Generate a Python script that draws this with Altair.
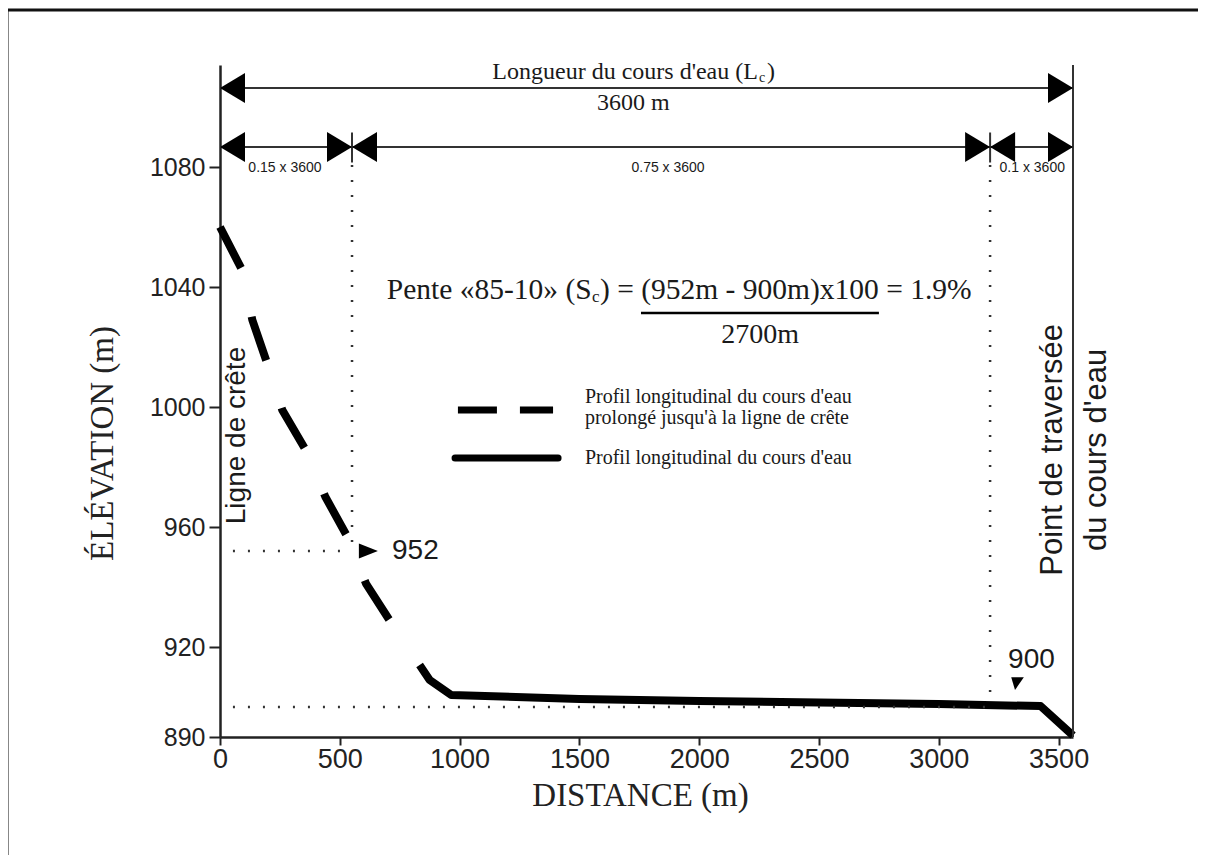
import altair as alt
import pandas as pd

# ---- data ----
dash_x = [0, 90, 135, 195, 260, 355, 440, 530, 610, 715]
dash_y = [1060, 1046, 1029, 1015, 999, 986, 970, 957, 941, 928]

solid_x = [833, 875, 965, 1500, 2000, 2500, 3000, 3425, 3560]
solid_y = [914, 909, 904, 902.7, 902, 901.5, 901, 900.3, 890.5]

x_ticks = [0, 500, 1000, 1500, 2000, 2500, 3000, 3500]
y_ticks = [890, 920, 960, 1000, 1040, 1080]

L_total = 3560
x_85 = 551      # 0.15 x 3600 mark
x_10 = 3214     # 0.1 x 3600 mark
elev_85 = 952
elev_10 = 900

# ---- scales / axes ----
XS = alt.Scale(domain=[0, L_total], nice=False, zero=False)
YS = alt.Scale(domain=[890, 1114], nice=False, zero=False)
XAX = alt.Axis(values=x_ticks, format="d", title="DISTANCE (m)", grid=False, labelPadding=1,
               tickSize=8, labelFontSize=27, titleX=420, titleY=58, titleAlign="center",
               titleBaseline="middle", labelFlush=False)
YAX = alt.Axis(values=y_ticks, format="d", title="ÉLÉVATION (m)", grid=False, labelPadding=4,
               titleX=-118, titleY=378, titleAngle=270, titleAlign="center",
               titleBaseline="middle")


def X(f="x"):
    return alt.X(f"{f}:Q", scale=XS, axis=XAX)


def Y(f="y"):
    return alt.Y(f"{f}:Q", scale=YS, axis=YAX)


layers = []

# curves
dash_df = pd.DataFrame({"x": dash_x, "y": dash_y})
solid_df = pd.DataFrame({"x": solid_x, "y": solid_y})
layers.append(alt.Chart(dash_df).mark_line(color="black", strokeWidth=8, strokeDash=[46, 50],
                                           strokeCap="butt").encode(x=X(), y=Y(), order="x:Q"))
layers.append(alt.Chart(solid_df).mark_line(color="black", strokeWidth=8, strokeJoin="round",
                                            strokeCap="butt").encode(x=X(), y=Y(), order="x:Q"))

# dimension lines
dim_df = pd.DataFrame({
    "x": [0, 0, x_85, x_10],
    "x2": [L_total, x_85, x_10, L_total],
    "y": [1106.3, 1086.7, 1086.7, 1086.7],
})
layers.append(alt.Chart(dim_df).mark_rule(color="#333", strokeWidth=2).encode(
    x=X(), x2="x2:Q", y=Y()))

# divider ticks on second row
div_df = pd.DataFrame({"x": [x_85, x_10], "y": [1091.5, 1091.5], "y2": [1081.5, 1081.5]})
layers.append(alt.Chart(div_df).mark_rule(color="#333", strokeWidth=2).encode(
    x=X(), y=Y(), y2="y2:Q"))

# right vertical line (crossing point)
layers.append(alt.Chart(pd.DataFrame({"x": [L_total], "y": [890], "y2": [1114]})).mark_rule(
    color="#333", strokeWidth=2).encode(x=X(), y=Y(), y2="y2:Q"))

# arrowheads
LEFT = "M0,0L2,-1.2L2,1.2Z"
RIGHT = "M0,0L-2,-1.2L-2,1.2Z"
la_df = pd.DataFrame({"x": [0, 0, x_85, x_10], "y": [1106.3, 1086.7, 1086.7, 1086.7]})
ra_df = pd.DataFrame({"x": [L_total, x_85, x_10, L_total], "y": [1106.3, 1086.7, 1086.7, 1086.7]})
layers.append(alt.Chart(la_df).mark_point(shape=LEFT, size=625, filled=True, color="black",
                                          opacity=1).encode(x=X(), y=Y()))
layers.append(alt.Chart(ra_df).mark_point(shape=RIGHT, size=625, filled=True, color="black",
                                          opacity=1).encode(x=X(), y=Y()))

# dotted guide lines
dv_df = pd.DataFrame({"x": [x_85, x_10], "y": [1080.7, 1080.7], "y2": [953, 901.5]})
layers.append(alt.Chart(dv_df).mark_rule(color="#333", strokeWidth=2.5, strokeDash=[2, 13]).encode(
    x=X(), y=Y(), y2="y2:Q"))
dh_df = pd.DataFrame({"x": [54, 54], "x2": [x_85, x_10], "y": [elev_85, elev_10]})
layers.append(alt.Chart(dh_df).mark_rule(color="#333", strokeWidth=2.5, strokeDash=[2, 13]).encode(
    x=X(), x2="x2:Q", y=Y()))

# small arrows at 952 and 900
layers.append(alt.Chart(pd.DataFrame({"x": [659], "y": [elev_85]})).mark_point(
    shape="M0,0L-2,-0.8L-2,0.8Z", size=361, filled=True, color="black", opacity=1).encode(x=X(), y=Y()))
layers.append(alt.Chart(pd.DataFrame({"x": [3318], "y": [905.7]})).mark_point(
    shape="M0,0L-0.6,-2L1.4,-2Z", size=160, filled=True, color="black", opacity=1).encode(x=X(), y=Y()))

# legend samples
layers.append(alt.Chart(pd.DataFrame({"x": [993], "x2": [1390], "y": [999]})).mark_rule(
    color="black", strokeWidth=7, strokeDash=[39, 23]).encode(x=X(), x2="x2:Q", y=Y()))
layers.append(alt.Chart(pd.DataFrame({"x": [981], "x2": [1411], "y": [983]})).mark_rule(
    color="black", strokeWidth=7, strokeCap="round").encode(x=X(), x2="x2:Q", y=Y()))
# formula underline
layers.append(alt.Chart(pd.DataFrame({"x": [1757], "x2": [2750], "y": [1031.3]})).mark_rule(
    color="black", strokeWidth=2.5).encode(x=X(), x2="x2:Q", y=Y()))


def txt(rows, **kw):
    df = pd.DataFrame(rows, columns=["x", "y", "t"])
    base = dict(color="#1a1a1a", baseline="middle")
    base.update(kw)
    return alt.Chart(df).mark_text(**base).encode(x=X(), y=Y(), text="t:N")


SERIF = "Liberation Serif"
SANS = "Liberation Sans"

# top title of length
layers.append(txt([(2245, 1111.7, "Longueur du cours d'eau (L")], font=SERIF, fontSize=24, align="right"))
layers.append(txt([(2250, 1109.6, "c")], font=SERIF, fontSize=14, align="left"))
layers.append(txt([(2283, 1111.7, ")")], font=SERIF, fontSize=24, align="left"))
layers.append(txt([(1725, 1101.3, "3600 m")], font=SERIF, fontSize=24, align="center"))

# fractions labels
layers.append(txt([(271, 1079.7, "0.15 x 3600"), (1870, 1079.7, "0.75 x 3600"),
                   (3390, 1079.7, "0.1 x 3600")], font=SANS, fontSize=14, align="center"))

# slope formula
layers.append(txt([(1551, 1039, "Pente «85-10» (S")], font=SERIF, fontSize=29.5, align="right"))
layers.append(txt([(1553, 1036.6, "c")], font=SERIF, fontSize=17, align="left"))
layers.append(txt([(1586, 1039, ") = (952m - 900m)x100 = 1.9%")], font=SERIF, fontSize=29.5, align="left"))
layers.append(txt([(2254, 1024, "2700m")], font=SERIF, fontSize=28, align="center"))

# legend text
layers.append(txt([(1523, 1003.3, "Profil longitudinal du cours d'eau"),
                   (1523, 996.3, "prolongé jusqu'à la ligne de crête"),
                   (1523, 983, "Profil longitudinal du cours d'eau")],
                  font=SERIF, fontSize=20, align="left"))

# values
layers.append(txt([(718, elev_85, "952"), (3289, 915.7, "900")], font=SANS, fontSize=28, align="left"))

# rotated labels
layers.append(txt([(72, 990.5, "Ligne de crête")], font=SANS, fontSize=28, align="center", angle=270))
layers.append(txt([(3476, 985.7, "Point de traversée"), (3660, 985.7, "du cours d'eau")],
                  font=SANS, fontSize=31, align="center", angle=270))

# page frame (decorative border of the original figure)
frame_top = alt.Chart(pd.DataFrame({"a": [0]})).mark_rule(color="#111", strokeWidth=3).encode(
    x=alt.value(-215), x2=alt.value(990), y=alt.value(-55))
frame_left = alt.Chart(pd.DataFrame({"a": [0]})).mark_rule(color="#111", strokeWidth=3).encode(
    x=alt.value(-213), y=alt.value(-55), y2=alt.value(800))
layers += [frame_top, frame_left]

chart = alt.layer(*layers).properties(
    width=853, height=672,
    padding={"left": 212, "top": 57, "right": 125, "bottom": 118},
    autosize="none",
    background="white",
).configure_view(stroke=None).configure_axis(
    domainColor="#222", domainWidth=2.5, tickColor="#222", tickWidth=2, tickSize=11,
    labelFont=SANS, labelFontSize=25, labelColor="#222",
    titleFont=SERIF, titleFontSize=33, titleFontWeight="normal", titleColor="#222",
)

chart.save("out.html", embed_options={"renderer": "svg", "actions": False})
